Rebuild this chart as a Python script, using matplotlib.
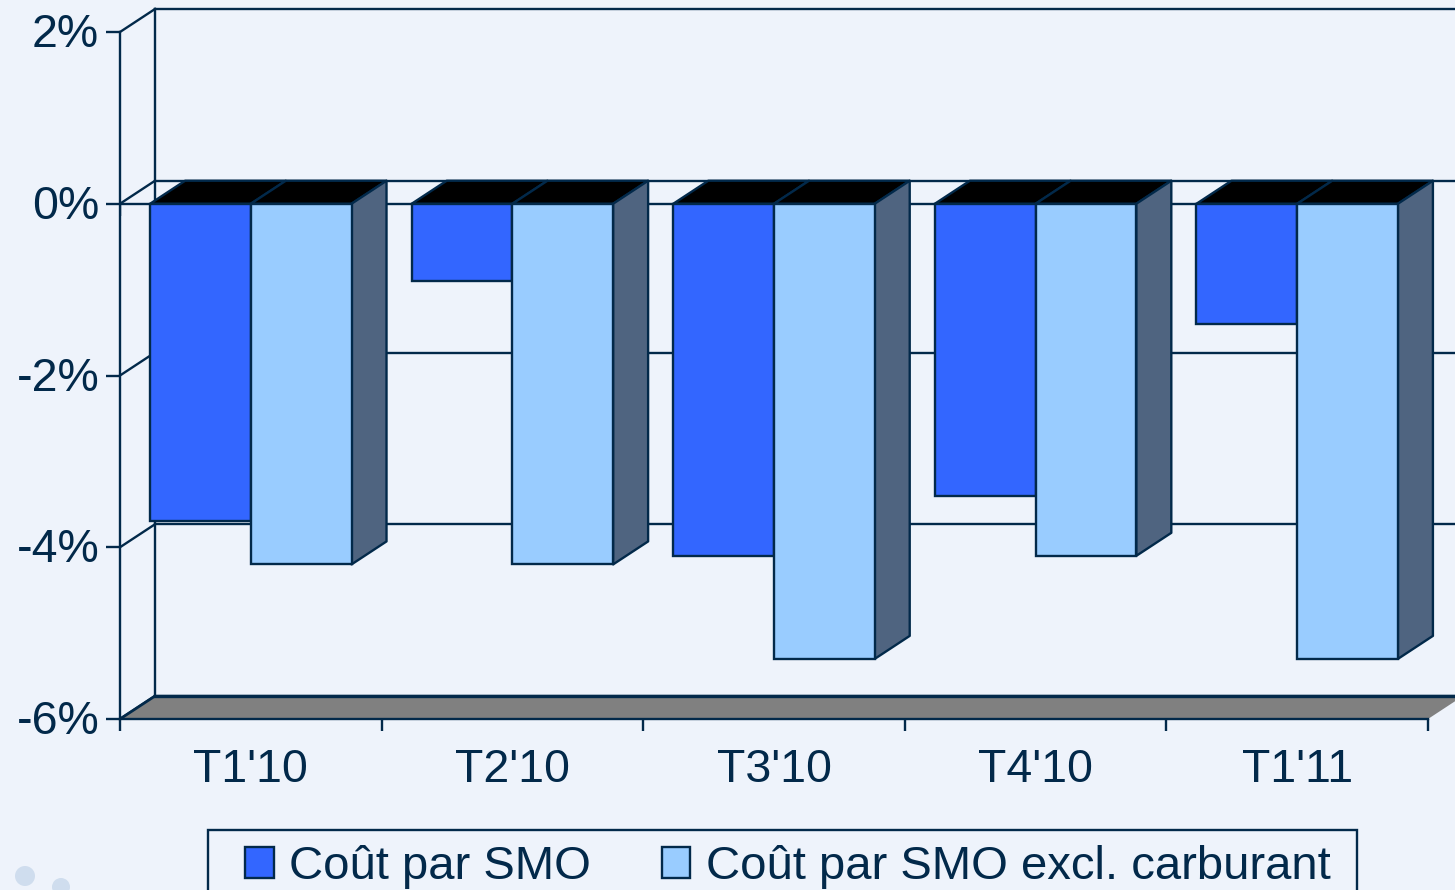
import matplotlib
matplotlib.use('Agg')
import matplotlib.pyplot as plt
from matplotlib.patches import Polygon, Rectangle, Ellipse
from matplotlib.transforms import ScaledTranslation

# values, in %
quarters = ["T1'10", "T2'10", "T3'10", "T4'10", "T1'11"]
cout_smo = [-3.7, -0.9, -4.1, -3.4, -1.4]
cout_excl = [-4.2, -4.2, -5.3, -4.1, -5.3]
y_ticks = [-6, -4, -2, 0, 2]
y_labels = ['-6%', '-4%', '-2%', '0%', '2%']
legend_names = ['Coût par SMO', 'Coût par SMO excl. carburant']

W, H = 1455, 890
BG = '#EEF3FB'
LINE = '#02294A'
BLUE = '#3366FF'
LIGHT = '#99CCFF'
SIDE = '#4F6480'
FLOOR = '#808080'

plt.rcParams['font.family'] = ['Liberation Sans', 'DejaVu Sans']

fig = plt.figure(figsize=(W / 100, H / 100), dpi=100, facecolor=BG)
# axes frame = front plane of the 3D chart
left, right, top, bottom = 120, 1428, 32, 719
ax = fig.add_axes([left / W, 1 - bottom / H, (right - left) / W, (bottom - top) / H])
ax.set_facecolor('none')
ax.set_xlim(0, 5)
ax.set_ylim(-6, 2)

# depth of the fake 3D, data units
dx = 35 / ((right - left) / 5)
dy = 23 / ((bottom - top) / 8)
lw = 1.7

# back wall and left wall
ax.plot([dx, dx], [-6 + dy, 2 + dy], color=LINE, lw=lw, clip_on=False, zorder=1)
for t in y_ticks:
    ax.plot([0, dx], [t, t + dy], color=LINE, lw=lw, clip_on=False, zorder=1)
    ax.plot([dx, 5 + dx], [t + dy, t + dy], color=LINE, lw=lw, clip_on=False, zorder=1)

# floor
ax.add_patch(Polygon([(0, -6), (dx, -6 + dy), (5 + dx, -6 + dy), (5, -6)], closed=True,
                     facecolor=FLOOR, edgecolor='none', clip_on=False, zorder=1.5))
ax.plot([dx, 5 + dx], [-6 + dy, -6 + dy], color=LINE, lw=2.4, clip_on=False, zorder=1.6)
ax.plot([0, dx], [-6, -6 + dy], color=LINE, lw=2.0, clip_on=False, zorder=1.6)

# bars, back faces first so the fronts stay on top
start, w = 0.115, 0.385
for i in range(len(quarters)):
    for j, v in enumerate([cout_smo[i], cout_excl[i]]):
        x0 = i + start + j * w
        x1 = x0 + w
        ax.add_patch(Polygon([(x0, 0), (x0 + dx, dy), (x1 + dx, dy), (x1, 0)], closed=True,
                             facecolor='black', edgecolor=LINE, lw=lw, joinstyle='round',
                             clip_on=False, zorder=3))
        if j == 1:
            ax.add_patch(Polygon([(x1, 0), (x1 + dx, dy), (x1 + dx, v + dy), (x1, v)], closed=True,
                                 facecolor=SIDE, edgecolor=LINE, lw=lw, joinstyle='round',
                                 clip_on=False, zorder=3))

xs = [i + start + w / 2 for i in range(len(quarters))]
ax.bar(xs, cout_smo, width=w, color=BLUE, edgecolor=LINE, lw=lw, zorder=4)
ax.bar([x + w for x in xs], cout_excl, width=w, color=LIGHT, edgecolor=LINE, lw=lw, zorder=4)

# zero line with its small ticks
ax.plot([0, 5], [0, 0], color=LINE, lw=lw, zorder=2)
ax.vlines(range(6), 0, -0.14, color=LINE, lw=lw, zorder=2)

for s in ['top', 'right']:
    ax.spines[s].set_visible(False)
for s in ['left', 'bottom']:
    ax.spines[s].set_color(LINE)
    ax.spines[s].set_linewidth(lw)
    ax.spines[s].set_zorder(2)

ax.set_yticks(y_ticks)
ax.set_yticklabels(y_labels)
ax.set_xticks(range(6))
ax.set_xticklabels([])
ax.set_xticks([i + 0.5 for i in range(5)], minor=True)
ax.set_xticklabels(quarters, minor=True)
ax.tick_params(axis='y', length=10, width=lw, color=LINE, labelcolor=LINE, labelsize=33.5, pad=5)
ax.tick_params(axis='x', which='major', length=8.5, width=lw, color=LINE)
ax.tick_params(axis='x', which='minor', length=0, labelcolor=LINE, labelsize=33.5, pad=21)

# y labels sit a little above their ticks in the original
up = ScaledTranslation(0, 2 / 100, fig.dpi_scale_trans)
for lab in ax.get_yticklabels():
    lab.set_transform(lab.get_transform() + up)

# legend box runs past the bottom edge of the image
fig.add_artist(Rectangle((208 / W, 1 - 900 / H), (1357 - 208) / W, 70 / H, transform=fig.transFigure,
                         facecolor=BG, edgecolor=LINE, lw=lw))
handles = [Rectangle((0, 0), 1, 1, facecolor=c, edgecolor=LINE, lw=lw) for c in [BLUE, LIGHT]]
fig.legend(handles, legend_names, loc='center left', bbox_to_anchor=(245 / W, 1 - 867 / H),
           ncols=2, frameon=False, fontsize=34, labelcolor=LINE, borderpad=0, borderaxespad=0,
           handlelength=0.61, handleheight=0.61, handletextpad=0.32, columnspacing=1.5)

# pale dots from the slide background
for cx, cy, r in [(25, 876, 10), (61, 887, 9)]:
    fig.add_artist(Ellipse((cx / W, 1 - cy / H), 2 * r / W, 2 * r / H, transform=fig.transFigure,
                           facecolor='#CFDDEE', edgecolor='none'))

fig.savefig('out.png', dpi=100, facecolor=BG)
